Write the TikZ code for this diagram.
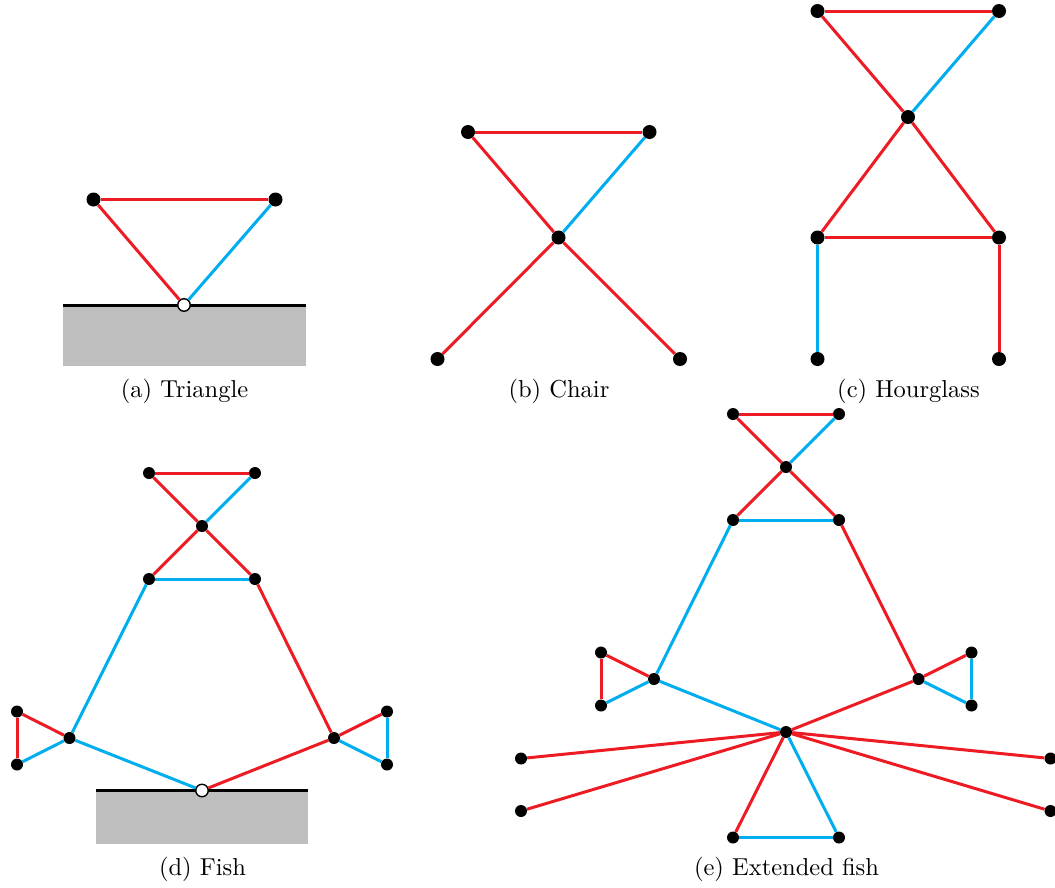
\documentclass[tikz,border=0pt]{standalone}
\definecolor{myred}{RGB}{237,28,36}
\definecolor{myblue}{RGB}{0,174,239}
\definecolor{mygray}{RGB}{190,190,190}
\newcommand{\captxt}[1]{\scalebox{2.45}{\fontsize{10}{12}\selectfont #1}}
\tikzset{
 vbig/.style={circle,fill=black,inner sep=0pt,minimum size=14pt},
 vs/.style={circle,fill=black,inner sep=0pt,minimum size=12pt},
 vopen/.style={circle,fill=white,draw=black,inner sep=0pt,minimum size=12.5pt,line width=1.4pt},
 redge/.style={draw=myred,line width=3pt},
 bedge/.style={draw=myblue,line width=3pt},
 floorline/.style={draw=black,line width=3pt},
 captext/.style={inner sep=0pt}
}
\begin{document}
\begin{tikzpicture}[x=1pt,y=-1pt]
\useasboundingbox (0,0) rectangle (1055,887);
% (a)
\fill[mygray] (63,305) rectangle (306,366);
\coordinate (afl) at (63,305); \coordinate (afr) at (306,305);
\draw[floorline] (afl) -- (afr);
\node[vbig] (a1) at (93.5,199.5) {};
\node[vbig] (a2) at (275.5,199.5) {};
\node[vopen] (a3) at (184,305) {};
\draw[redge] (a1) -- (a2);
\draw[redge] (a1) -- (a3);
\draw[bedge] (a2) -- (a3);
\node[captext] (ca) at (184.5,391) {\captxt{(a) Triangle}};
% (b)
\node[vbig] (b1) at (468,132) {};
\node[vbig] (b2) at (649.5,132) {};
\node[vbig] (b3) at (558.5,237.5) {};
\node[vbig] (b4) at (437.5,359) {};
\node[vbig] (b5) at (680,359) {};
\draw[redge] (b1) -- (b2);
\draw[redge] (b1) -- (b3);
\draw[bedge] (b2) -- (b3);
\draw[redge] (b3) -- (b4);
\draw[redge] (b3) -- (b5);
\node[captext] (cb) at (559,391) {\captxt{(b) Chair}};
% (c)
\node[vbig] (c1) at (817.5,11) {};
\node[vbig] (c2) at (999,11) {};
\node[vbig] (c3) at (908,117) {};
\node[vbig] (c4) at (817.5,237.5) {};
\node[vbig] (c5) at (999,237.5) {};
\node[vbig] (c6) at (817.5,359) {};
\node[vbig] (c7) at (999,359) {};
\draw[redge] (c1) -- (c2);
\draw[redge] (c1) -- (c3);
\draw[bedge] (c2) -- (c3);
\draw[redge] (c3) -- (c4);
\draw[redge] (c3) -- (c5);
\draw[redge] (c4) -- (c5);
\draw[bedge] (c4) -- (c6);
\draw[redge] (c5) -- (c7);
\node[captext] (cc) at (908.5,391) {\captxt{(c) Hourglass}};
% (d)
\fill[mygray] (96,790.5) rectangle (308,844);
\coordinate (dfl) at (96,790.5); \coordinate (dfr) at (308,790.5);
\draw[floorline] (dfl) -- (dfr);
\node[vs] (d1) at (149,473) {};
\node[vs] (d2) at (255,473) {};
\node[vs] (d3) at (202,526) {};
\node[vs] (d4) at (149,579) {};
\node[vs] (d5) at (255,579) {};
\node[vs] (d6) at (69.5,738) {};
\node[vs] (d7) at (334,738) {};
\node[vs] (d8) at (17,711.5) {};
\node[vs] (d9) at (17,764.5) {};
\node[vs] (d10) at (387,711.5) {};
\node[vs] (d11) at (387,764.5) {};
\node[vopen] (d12) at (202,790.5) {};
\draw[redge] (d1) -- (d2);
\draw[redge] (d1) -- (d3);
\draw[bedge] (d2) -- (d3);
\draw[redge] (d3) -- (d4);
\draw[redge] (d3) -- (d5);
\draw[bedge] (d4) -- (d5);
\draw[bedge] (d4) -- (d6);
\draw[redge] (d5) -- (d7);
\draw[redge] (d6) -- (d8);
\draw[bedge] (d6) -- (d9);
\draw[redge] (d8) -- (d9);
\draw[redge] (d7) -- (d10);
\draw[bedge] (d7) -- (d11);
\draw[bedge] (d10) -- (d11);
\draw[bedge] (d6) -- (d12);
\draw[redge] (d7) -- (d12);
\node[captext] (cd) at (202.5,869) {\captxt{(d) Fish}};
% (e)
\node[vs] (e1) at (733,414) {};
\node[vs] (e2) at (839,414) {};
\node[vs] (e3) at (786,467) {};
\node[vs] (e4) at (733,520) {};
\node[vs] (e5) at (839,520) {};
\node[vs] (e6) at (654,679) {};
\node[vs] (e7) at (918.5,679) {};
\node[vs] (e8) at (601,652.5) {};
\node[vs] (e9) at (601,705.5) {};
\node[vs] (e10) at (971.5,652.5) {};
\node[vs] (e11) at (971.5,705.5) {};
\node[vs] (e12) at (786,732) {};
\node[vs] (e13) at (521,758.5) {};
\node[vs] (e14) at (521,811) {};
\node[vs] (e15) at (1050.5,758.5) {};
\node[vs] (e16) at (1050.5,811) {};
\node[vs] (e17) at (733,837.5) {};
\node[vs] (e18) at (839,837.5) {};
\draw[redge] (e1) -- (e2);
\draw[redge] (e1) -- (e3);
\draw[bedge] (e2) -- (e3);
\draw[redge] (e3) -- (e4);
\draw[redge] (e3) -- (e5);
\draw[bedge] (e4) -- (e5);
\draw[bedge] (e4) -- (e6);
\draw[redge] (e5) -- (e7);
\draw[redge] (e6) -- (e8);
\draw[bedge] (e6) -- (e9);
\draw[redge] (e8) -- (e9);
\draw[redge] (e7) -- (e10);
\draw[bedge] (e7) -- (e11);
\draw[bedge] (e10) -- (e11);
\draw[bedge] (e6) -- (e12);
\draw[redge] (e7) -- (e12);
\draw[redge] (e12) -- (e13);
\draw[redge] (e12) -- (e14);
\draw[redge] (e12) -- (e15);
\draw[redge] (e12) -- (e16);
\draw[redge] (e12) -- (e17);
\draw[bedge] (e12) -- (e18);
\draw[bedge] (e17) -- (e18);
\node[captext] (ce) at (786.5,869) {\captxt{(e) Extended fish}};
\end{tikzpicture}
\end{document}
